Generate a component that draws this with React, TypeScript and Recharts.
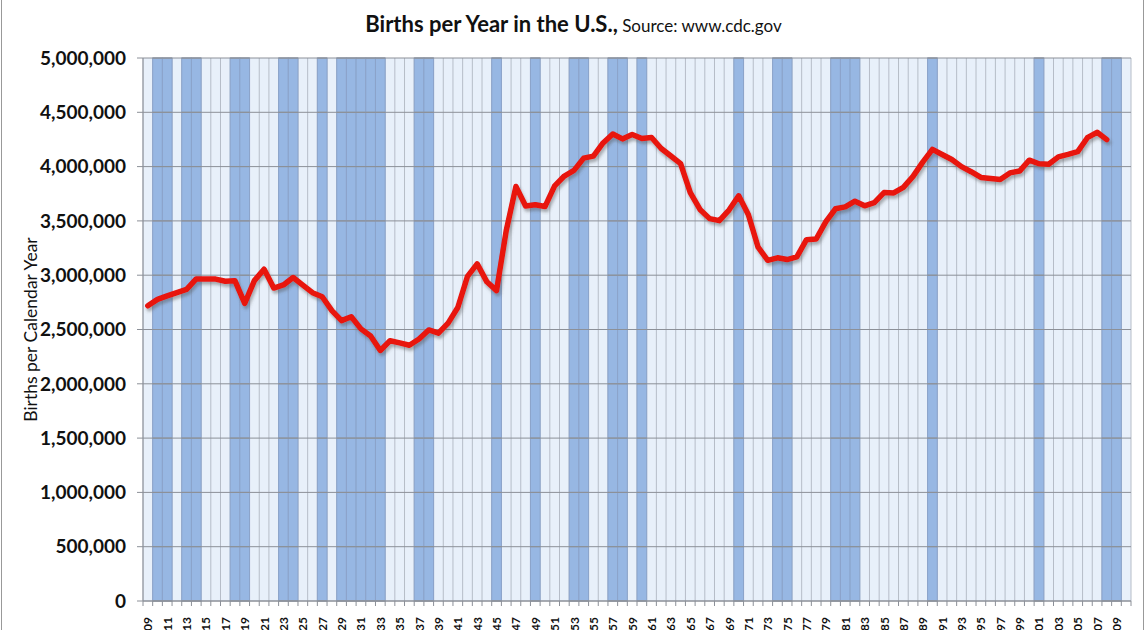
import React from "react";
import {
  ComposedChart,
  Line,
  XAxis,
  YAxis,
  CartesianGrid,
  ReferenceArea,
  ReferenceLine,
} from "recharts";

// years shown on the category axis (1909 .. 2010)
const firstYear = 1909;
const years: number[] = [];
for (let y = firstYear; y <= 2010; y++) years.push(y);

// births per calendar year, 1909 .. 2008
const births = [
  2718000, 2777000, 2809000, 2840000, 2869000, 2966000, 2965000, 2964000, 2944000, 2948000,
  2740000, 2950000, 3055000, 2882000, 2910000, 2979000, 2909000, 2839000, 2802000, 2674000,
  2582000, 2618000, 2506000, 2440000, 2307000, 2396000, 2377000, 2355000, 2413000, 2496000,
  2466000, 2559000, 2703000, 2989000, 3104000, 2939000, 2858000, 3411000, 3817000, 3637000,
  3649000, 3632000, 3823000, 3913000, 3965000, 4078000, 4097000, 4218000, 4300000, 4255000,
  4295000, 4258000, 4268000, 4167000, 4098000, 4027000, 3760000, 3606000, 3521000, 3502000,
  3600000, 3731000, 3556000, 3258000, 3137000, 3160000, 3144000, 3168000, 3327000, 3333000,
  3494000, 3612000, 3629000, 3681000, 3639000, 3669000, 3761000, 3757000, 3809000, 3910000,
  4041000, 4158000, 4111000, 4065000, 4000000, 3953000, 3900000, 3891000, 3881000, 3942000,
  3959000, 4059000, 4026000, 4022000, 4090000, 4112000, 4138000, 4266000, 4316000, 4248000,
];

// recession years (dark columns)
const recessionYears = [
  1910, 1911, 1913, 1914, 1918, 1919, 1923, 1924, 1927, 1929, 1930, 1931, 1932, 1933,
  1937, 1938, 1945, 1949, 1953, 1954, 1957, 1958, 1960, 1970, 1974, 1975, 1980, 1981,
  1982, 1990, 2001, 2008, 2009,
];

const yTicks = [
  0, 500000, 1000000, 1500000, 2000000, 2500000, 3000000, 3500000, 4000000, 4500000, 5000000,
];

const yMax = 5000000;

const data = years.map((year, i) => ({
  year,
  births: i < births.length ? births[i] : null,
}));

const FONT = "Lato, 'Open Sans', sans-serif";
const GRID = "#8c9098";

const YearTick = (props: any) => {
  const { x, y, payload, index } = props;
  const half = payload.offset || 0;
  const label = payload.value % 2 === 1 ? String(payload.value % 100).padStart(2, "0") : "";
  return (
    <g transform={`translate(${x},${y})`}>
      <line x1={-half} y1={0} x2={-half} y2={5} stroke={GRID} strokeWidth={1} />
      {index === years.length - 1 && (
        <line x1={half} y1={0} x2={half} y2={5} stroke={GRID} strokeWidth={1} />
      )}
      {label && (
        <text
          transform="rotate(-90)"
          x={-16}
          y={0}
          textAnchor="end"
          dominantBaseline="central"
          fontFamily={FONT}
          fontWeight="bold"
          fontSize={12}
          fill="#111"
        >
          {label}
        </text>
      )}
    </g>
  );
};

// recession column; the horizontal grid lines are redrawn on top of it
const RecessionShape = (p: any) => {
  const { x, y, width, height } = p;
  return (
    <g>
      <rect x={x} y={y} width={width} height={height} fill="#97b7e3" stroke="#8ba3ca" strokeWidth={1} />
      {yTicks.map((t) => {
        const ty = y + height * (1 - t / yMax);
        return <line key={t} x1={x} x2={x + width} y1={ty} y2={ty} stroke={GRID} strokeWidth={1} />;
      })}
    </g>
  );
};

// vertical grid lines sit on the boundaries between the yearly columns
const boundaryLines = ({ offset }: any) => {
  const step = offset.width / years.length;
  const xs: number[] = [];
  for (let i = 0; i <= years.length; i++) xs.push(offset.left + i * step);
  return xs;
};

export default function App() {
  return (
    <div
      style={{
        position: "absolute",
        left: 0,
        top: 0,
        width: 1147,
        height: 630,
        overflow: "hidden",
        background: "#fff",
      }}
    >
      {/* outer frame lines */}
      <div style={{ position: "absolute", left: 1, top: 0, width: 1, height: 630, background: "#999" }} />
      <div style={{ position: "absolute", left: 1143, top: 0, width: 1, height: 630, background: "#999" }} />

      <div
        style={{
          position: "absolute",
          top: 10,
          left: 0,
          width: 1147,
          textAlign: "center",
          fontFamily: FONT,
          color: "#111",
          whiteSpace: "nowrap",
        }}
      >
        <span style={{ fontWeight: "bold", fontSize: 22 }}>Births per Year in the U.S.,</span>
        <span style={{ fontSize: 17 }}> Source: www.cdc.gov</span>
      </div>

      <ComposedChart
        width={1147}
        height={630}
        data={data}
        margin={{ top: 58, right: 16, bottom: 0, left: 0 }}
      >
        <defs>
          <filter id="lineShadow" x="-5%" y="-5%" width="110%" height="120%">
            <feDropShadow dx="1.5" dy="3" stdDeviation="1.5" floodColor="#555" floodOpacity="0.45" />
          </filter>
        </defs>

        <CartesianGrid
          horizontal={false}
          fill="#e8f0fa"
          fillOpacity={1}
          stroke="#b6bdc8"
          verticalCoordinatesGenerator={boundaryLines}
        />

        <XAxis
          dataKey="year"
          type="category"
          scale="band"
          interval={0}
          height={29}
          tickSize={0}
          tickMargin={0}
          tickLine={false}
          axisLine={{ stroke: GRID }}
          tick={<YearTick />}
        />
        <YAxis
          width={143}
          domain={[0, yMax]}
          ticks={yTicks}
          interval={0}
          tickSize={6}
          tickMargin={11}
          tickFormatter={(v: number) => v.toLocaleString("en-US")}
          tick={{ fontFamily: FONT, fontWeight: "bold", fontSize: 19, fill: "#111" }}
          axisLine={{ stroke: GRID }}
          tickLine={{ stroke: GRID }}
          label={{
            value: "Births per Calendar Year",
            angle: -90,
            position: "insideLeft",
            offset: 31,
            style: { fontFamily: FONT, fontSize: 17.5, fill: "#111", textAnchor: "middle" },
          }}
        />

        {yTicks.map((t) => (
          <ReferenceLine key={t} y={t} stroke={GRID} strokeWidth={1} />
        ))}

        {recessionYears.map((y) => (
          <ReferenceArea
            key={y}
            x1={y}
            x2={y}
            y1={0}
            y2={yMax}
            fillOpacity={1}
            shape={<RecessionShape />}
          />
        ))}

        <Line
          type="linear"
          dataKey="births"
          stroke="#e8120c"
          strokeWidth={5.5}
          strokeLinejoin="round"
          strokeLinecap="round"
          dot={false}
          activeDot={false}
          connectNulls={false}
          filter="url(#lineShadow)"
          isAnimationActive={false}
        />
      </ComposedChart>
    </div>
  );
}
